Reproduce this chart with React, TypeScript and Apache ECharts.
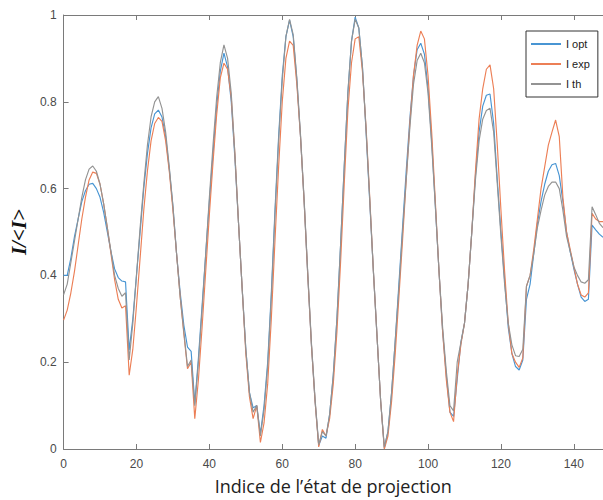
import React, { useEffect, useRef } from "react";
import * as echarts from "echarts";

const xTicks = [0, 20, 40, 60, 80, 100, 120, 140];
const yTicks = [0, 0.2, 0.4, 0.6, 0.8, 1];

const iOpt = [
  0.40, 0.40, 0.44, 0.49, 0.53, 0.57, 0.595, 0.61, 0.612, 0.60,
  0.58, 0.545, 0.50, 0.455, 0.415, 0.395, 0.387, 0.385, 0.228, 0.30,
  0.40, 0.50, 0.60, 0.68, 0.74, 0.772, 0.781, 0.765, 0.72, 0.645,
  0.56, 0.45, 0.36, 0.285, 0.235, 0.225, 0.105, 0.21, 0.33, 0.45,
  0.57, 0.68, 0.79, 0.87, 0.912, 0.88, 0.80, 0.67, 0.52, 0.37,
  0.23, 0.13, 0.095, 0.10, 0.035, 0.10, 0.20, 0.36, 0.55, 0.72,
  0.86, 0.95, 0.988, 0.95, 0.85, 0.72, 0.57, 0.40, 0.24, 0.11,
  0.008, 0.03, 0.025, 0.08, 0.17, 0.30, 0.47, 0.65, 0.82, 0.94,
  0.995, 0.97, 0.88, 0.73, 0.57, 0.41, 0.26, 0.11, 0.002, 0.04,
  0.13, 0.25, 0.38, 0.51, 0.64, 0.76, 0.86, 0.92, 0.935, 0.91,
  0.83, 0.71, 0.56, 0.41, 0.27, 0.17, 0.085, 0.075, 0.16, 0.245,
  0.29, 0.38, 0.50, 0.63, 0.73, 0.79, 0.815, 0.818, 0.75, 0.62,
  0.50, 0.39, 0.28, 0.22, 0.19, 0.182, 0.205, 0.345, 0.38, 0.45,
  0.52, 0.57, 0.61, 0.64, 0.655, 0.658, 0.63, 0.57, 0.50, 0.455,
  0.415, 0.38, 0.35, 0.34, 0.345, 0.516, 0.505, 0.495, 0.488,
];

const iExp = [
  0.297, 0.32, 0.36, 0.41, 0.47, 0.53, 0.58, 0.62, 0.638, 0.635,
  0.61, 0.565, 0.51, 0.45, 0.39, 0.345, 0.325, 0.33, 0.17, 0.23,
  0.33, 0.44, 0.55, 0.64, 0.71, 0.75, 0.764, 0.755, 0.71, 0.64,
  0.55, 0.45, 0.35, 0.265, 0.185, 0.20, 0.07, 0.16, 0.28, 0.41,
  0.54, 0.66, 0.77, 0.855, 0.889, 0.875, 0.81, 0.68, 0.52, 0.37,
  0.22, 0.12, 0.07, 0.10, 0.015, 0.06, 0.15, 0.30, 0.48, 0.65,
  0.80, 0.90, 0.94, 0.93, 0.84, 0.72, 0.57, 0.40, 0.24, 0.11,
  0.005, 0.045, 0.03, 0.07, 0.15, 0.27, 0.43, 0.61, 0.78, 0.89,
  0.945, 0.95, 0.87, 0.74, 0.58, 0.41, 0.26, 0.11, 0.0, 0.03,
  0.11, 0.22, 0.35, 0.48, 0.62, 0.75, 0.86, 0.93, 0.963, 0.945,
  0.86, 0.73, 0.57, 0.41, 0.27, 0.16, 0.085, 0.063, 0.17, 0.24,
  0.29, 0.38, 0.50, 0.64, 0.76, 0.83, 0.875, 0.885, 0.83, 0.70,
  0.55, 0.41, 0.29, 0.22, 0.20, 0.188, 0.21, 0.375, 0.40, 0.46,
  0.53, 0.60, 0.65, 0.70, 0.73, 0.758, 0.72, 0.58, 0.50, 0.46,
  0.42, 0.38, 0.355, 0.35, 0.36, 0.543, 0.53, 0.524, 0.524,
];

const iTh = [
  0.355, 0.38, 0.43, 0.48, 0.53, 0.58, 0.62, 0.645, 0.652, 0.64,
  0.61, 0.565, 0.51, 0.455, 0.40, 0.37, 0.352, 0.36, 0.205, 0.29,
  0.40, 0.51, 0.61, 0.70, 0.765, 0.80, 0.812, 0.785, 0.73, 0.65,
  0.56, 0.45, 0.35, 0.27, 0.19, 0.205, 0.10, 0.20, 0.32, 0.45,
  0.58, 0.70, 0.81, 0.89, 0.931, 0.90, 0.82, 0.68, 0.52, 0.37,
  0.23, 0.13, 0.085, 0.10, 0.03, 0.09, 0.19, 0.35, 0.54, 0.71,
  0.85, 0.95, 0.99, 0.955, 0.855, 0.725, 0.575, 0.405, 0.245, 0.115,
  0.01, 0.04, 0.03, 0.08, 0.17, 0.30, 0.47, 0.65, 0.82, 0.94,
  0.99, 0.97, 0.88, 0.735, 0.575, 0.41, 0.26, 0.11, 0.005, 0.04,
  0.13, 0.25, 0.37, 0.50, 0.62, 0.74, 0.84, 0.895, 0.912, 0.89,
  0.82, 0.70, 0.56, 0.41, 0.28, 0.18, 0.10, 0.088, 0.20, 0.245,
  0.29, 0.38, 0.50, 0.62, 0.71, 0.76, 0.78, 0.785, 0.73, 0.61,
  0.49, 0.38, 0.29, 0.24, 0.215, 0.213, 0.23, 0.375, 0.40, 0.45,
  0.51, 0.55, 0.585, 0.605, 0.615, 0.615, 0.60, 0.55, 0.49, 0.455,
  0.42, 0.40, 0.385, 0.382, 0.39, 0.558, 0.54, 0.52, 0.51,
];

const seriesNames = ["I opt", "I exp", "I th"];
const seriesColors = ["#4895d3", "#ec7f56", "#939393"];
const seriesValues = [iOpt, iExp, iTh];

const toPairs = (vals: number[]) => vals.map((v, i) => [i, v]);

export default function App() {
  const ref = useRef<HTMLDivElement>(null);
  useEffect(() => {
    if (!ref.current) return;
    const chart = echarts.init(ref.current, null, { renderer: "svg" });
    const axisLabel = {
      color: "#4a4a4a",
      fontSize: 12,
      fontFamily: "Liberation Sans, Arial, sans-serif",
    };
    const tickStyle = { show: true, inside: true, length: 5, lineStyle: { color: "#7a7a7a" } };
    chart.setOption({
      animation: false,
      backgroundColor: "#ffffff",
      grid: { left: 62, top: 15, right: 0, bottom: 51, containLabel: false },
      legend: {
        data: seriesNames,
        orient: "vertical",
        left: 526,
        top: 31,
        padding: [6, 8, 6, 5],
        itemGap: 6,
        itemWidth: 30,
        itemHeight: 2,
        icon: "rect",
        borderColor: "#333333",
        borderWidth: 1,
        backgroundColor: "#ffffff",
        textStyle: {
          fontSize: 11,
          lineHeight: 14,
          color: "#222222",
          fontFamily: "Liberation Sans, Arial, sans-serif",
        },
      },
      xAxis: [
        {
          type: "value",
          min: 0,
          max: 148,
          name: "Indice de l\u2019\u00e9tat de projection",
          nameLocation: "middle",
          nameGap: 28,
          nameTextStyle: {
            fontSize: 18,
            color: "#222222",
            fontFamily: "Open Sans, Noto Sans, sans-serif",
          },
          axisLine: { show: true, lineStyle: { color: "#7a7a7a", width: 1 } },
          axisTick: { ...tickStyle, customValues: xTicks },
          axisLabel: { ...axisLabel, margin: 9, customValues: xTicks },
          splitLine: { show: false },
        },
        {
          type: "value",
          position: "top",
          min: 0,
          max: 148,
          axisLine: { show: true, onZero: false, lineStyle: { color: "#7a7a7a", width: 1 } },
          axisTick: { ...tickStyle, customValues: xTicks },
          axisLabel: { show: false },
          splitLine: { show: false },
        },
      ],
      yAxis: {
        type: "value",
        min: 0,
        max: 1,
        interval: 0.2,
        name: "I/<I>",
        nameLocation: "middle",
        nameRotate: 90,
        nameGap: 34,
        nameTextStyle: {
          fontSize: 21,
          fontWeight: "bold",
          fontStyle: "italic",
          color: "#111111",
          fontFamily: "Liberation Serif, Times New Roman, serif",
        },
        axisLine: { show: true, lineStyle: { color: "#7a7a7a", width: 1 } },
        axisTick: { ...tickStyle, customValues: yTicks },
        axisLabel: { ...axisLabel, margin: 7, customValues: yTicks },
        splitLine: { show: false },
      },
      series: seriesNames.map((name, k) => ({
        name,
        type: "line",
        xAxisIndex: 0,
        data: toPairs(seriesValues[k]),
        showSymbol: false,
        symbol: "none",
        smooth: false,
        lineStyle: { color: seriesColors[k], width: 1.15 },
        itemStyle: { color: seriesColors[k] },
      })),
    });
    return () => chart.dispose();
  }, []);
  return (
    <div
      ref={ref}
      style={{ position: "fixed", left: 0, top: 0, width: 603, height: 500 }}
    />
  );
}
